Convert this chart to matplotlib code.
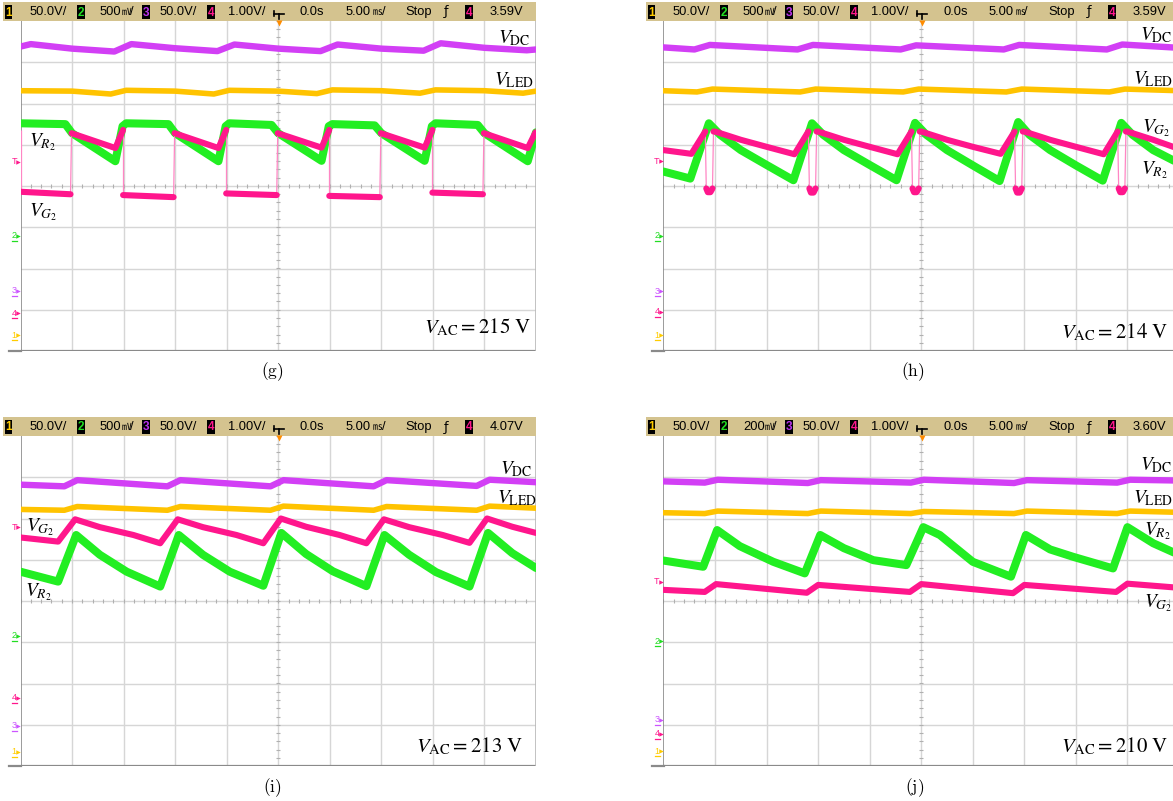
import numpy as np
import matplotlib
matplotlib.use('Agg')
import matplotlib.pyplot as plt
from matplotlib.patches import Rectangle

W, H = 1173, 801

# ---------------- data (time in divisions 0..10, value in divisions, 0 = centre line) ----------
# panel (g)  V_AC = 215 V
g_dc_t = [0.0, 0.2, 1.0, 1.82, 2.15, 3.0, 3.82, 4.15, 5.0, 5.82, 6.15, 7.0, 7.82, 8.15, 9.0, 9.82, 10.0]
g_dc_v = [3.38, 3.44, 3.33, 3.26, 3.44, 3.34, 3.27, 3.43, 3.33, 3.27, 3.43, 3.33, 3.28, 3.46, 3.35, 3.29, 3.31]
g_led_t = [0.0, 1.0, 1.75, 2.05, 3.0, 3.75, 4.05, 5.0, 5.75, 6.05, 7.0, 7.75, 8.05, 9.0, 9.75, 10.0]
g_led_v = [2.31, 2.30, 2.23, 2.32, 2.30, 2.23, 2.32, 2.30, 2.24, 2.33, 2.31, 2.25, 2.33, 2.31, 2.25, 2.30]
g_r2_t = [0.0, 0.87, 1.0, 1.84, 1.98, 2.05, 2.87, 3.0, 3.84, 3.98, 4.05, 4.87, 5.0, 5.84, 5.98, 6.05,
          6.87, 7.0, 7.84, 7.98, 8.05, 8.87, 9.0, 9.84, 10.0]
g_r2_v = [1.52, 1.50, 1.28, 0.60, 1.45, 1.52, 1.50, 1.28, 0.60, 1.45, 1.52, 1.48, 1.28, 0.61, 1.45, 1.50,
          1.47, 1.28, 0.61, 1.45, 1.52, 1.48, 1.28, 0.60, 1.30]
g_g2_t = [0.0, 0.0, 0.97, 0.99, 1.84, 1.99, 1.99, 2.97, 2.99, 3.84, 3.99, 3.99, 4.97, 4.99, 5.84, 5.99,
          5.99, 6.97, 6.99, 7.84, 7.99, 7.99, 8.97, 8.99, 9.84, 9.99]
g_g2_v = [1.36, -0.14, -0.20, 1.28, 0.92, 1.36, -0.22, -0.27, 1.28, 0.92, 1.36, -0.18, -0.22, 1.28, 0.93, 1.36,
          -0.24, -0.27, 1.28, 0.93, 1.36, -0.16, -0.20, 1.28, 0.92, 1.30]

# panel (h)  V_AC = 214 V
h_dc_t = [0.0, 0.6, 0.9, 2.6, 2.9, 4.6, 4.9, 6.6, 6.9, 8.6, 8.9, 10.0]
h_dc_v = [3.36, 3.31, 3.42, 3.31, 3.42, 3.31, 3.41, 3.31, 3.42, 3.31, 3.43, 3.35]
h_led_t = [0.0, 0.65, 0.95, 2.65, 2.95, 4.65, 4.95, 6.65, 6.95, 8.65, 8.95, 10.0]
h_led_v = [2.31, 2.28, 2.35, 2.28, 2.35, 2.28, 2.35, 2.28, 2.35, 2.28, 2.35, 2.31]
h_r2_t = [0.0, 0.52, 0.88, 1.1, 1.5, 2.0, 2.52, 2.88, 3.1, 3.5, 4.0, 4.52, 4.88, 5.1, 5.5, 6.0,
          6.52, 6.88, 7.1, 7.5, 8.0, 8.52, 8.88, 9.1, 9.5, 10.0]
h_r2_v = [0.35, 0.18, 1.52, 1.24, 0.87, 0.51, 0.14, 1.52, 1.24, 0.87, 0.51, 0.14, 1.53, 1.24, 0.87, 0.50,
          0.12, 1.55, 1.24, 0.87, 0.50, 0.13, 1.53, 1.24, 0.87, 0.55]
h_g2_t = [0.0, 0.54, 0.81, 0.83, 0.86, 0.91, 0.95, 0.97, 1.0, 1.5, 2.0,
          2.54, 2.81, 2.83, 2.86, 2.91, 2.95, 2.97, 3.0, 3.5, 4.0,
          4.54, 4.81, 4.83, 4.86, 4.91, 4.95, 4.97, 5.0, 5.5, 6.0,
          6.54, 6.81, 6.83, 6.86, 6.91, 6.95, 6.97, 7.0, 7.5, 8.0,
          8.54, 8.81, 8.83, 8.86, 8.91, 8.95, 8.97, 9.0, 9.5, 10.0]
h_g2_v = [0.87, 0.78, 1.32, -0.06, -0.15, -0.15, -0.06, 1.32, 1.32, 1.12, 0.95,
          0.77, 1.32, -0.06, -0.16, -0.16, -0.06, 1.32, 1.32, 1.12, 0.95,
          0.77, 1.32, -0.06, -0.15, -0.15, -0.06, 1.32, 1.32, 1.12, 0.95,
          0.78, 1.32, -0.06, -0.16, -0.16, -0.06, 1.32, 1.32, 1.12, 0.95,
          0.77, 1.32, -0.06, -0.15, -0.15, -0.06, 1.32, 1.32, 1.12, 0.90]

# panel (i)  V_AC = 213 V
i_dc_t = [0.0, 0.85, 1.1, 2.85, 3.1, 4.85, 5.1, 6.85, 7.1, 8.85, 9.1, 10.0]
i_dc_v = [2.82, 2.78, 2.93, 2.78, 2.93, 2.78, 2.93, 2.78, 2.93, 2.79, 2.94, 2.88]
i_led_t = [0.0, 0.85, 1.1, 2.85, 3.1, 4.85, 5.1, 6.85, 7.1, 8.85, 9.1, 10.0]
i_led_v = [2.22, 2.20, 2.29, 2.20, 2.29, 2.20, 2.30, 2.20, 2.29, 2.20, 2.30, 2.25]
i_r2_t = [0.0, 0.73, 1.08, 1.54, 2.06, 2.71, 3.07, 3.54, 4.06, 4.71, 5.06, 5.54, 6.06, 6.71,
          7.06, 7.54, 8.06, 8.71, 9.07, 9.54, 10.0]
i_r2_v = [0.71, 0.47, 1.60, 1.12, 0.71, 0.35, 1.60, 1.12, 0.71, 0.37, 1.65, 1.14, 0.72, 0.36,
          1.60, 1.12, 0.70, 0.35, 1.65, 1.16, 0.80]
i_g2_t = [0.0, 0.73, 1.06, 1.54, 2.19, 2.71, 3.05, 3.54, 4.19, 4.71, 5.05, 5.54, 6.19, 6.71,
          7.05, 7.54, 8.19, 8.71, 9.05, 9.54, 10.0]
i_g2_v = [1.54, 1.44, 1.98, 1.79, 1.60, 1.40, 1.98, 1.79, 1.60, 1.40, 2.00, 1.80, 1.60, 1.40,
          1.98, 1.79, 1.60, 1.41, 2.00, 1.80, 1.65]

# panel (j)  V_AC = 210 V
j_dc_t = [0.0, 0.8, 1.05, 2.8, 3.05, 4.8, 5.05, 6.8, 7.05, 8.8, 9.05, 10.0]
j_dc_v = [2.90, 2.87, 2.94, 2.86, 2.93, 2.87, 2.94, 2.86, 2.93, 2.87, 2.94, 2.92]
j_led_t = [0.0, 0.8, 1.05, 2.8, 3.05, 4.8, 5.05, 6.8, 7.05, 8.8, 9.05, 10.0]
j_led_v = [2.14, 2.12, 2.18, 2.12, 2.18, 2.12, 2.17, 2.12, 2.18, 2.12, 2.18, 2.15]
j_r2_t = [0.0, 0.77, 1.04, 1.48, 2.13, 2.74, 3.04, 3.5, 4.07, 4.71, 5.04, 5.36, 6.0, 6.74,
          7.03, 7.5, 7.95, 8.72, 9.0, 9.5, 10.0]
j_r2_v = [0.98, 0.83, 1.72, 1.33, 0.95, 0.67, 1.60, 1.28, 0.99, 0.87, 1.79, 1.60, 0.95, 0.59,
          1.60, 1.25, 1.07, 0.79, 1.79, 1.40, 1.12]
j_g2_t = [0.0, 0.8, 1.02, 2.78, 3.0, 4.78, 5.0, 6.78, 7.0, 8.78, 9.0, 10.0]
j_g2_v = [0.27, 0.22, 0.41, 0.20, 0.39, 0.22, 0.41, 0.19, 0.39, 0.22, 0.42, 0.32]

panel_names = ['g', 'h', 'i', 'j']
vac_values = [215, 214, 213, 210]
ch2_scales = ['500', '500', '500', '200']
trig_levels = ['3.59V', '3.59V', '4.07V', '3.60V']

# ---------------- styling / layout ----------------
C_DC = '#d23ff5'
C_LED = '#ffc300'
C_R2 = '#22ee22'
C_G2 = '#ff168c'
C_G2_THIN = '#ff86c4'
C_YEL = '#ffcc00'
BAR = '#d4c38f'

rects = {'g': (20.5, 21, 536, 351), 'h': (663.5, 21, 1179, 351),
         'i': (20.5, 436, 536, 766), 'j': (663.5, 436, 1179, 766)}

fig = plt.figure(figsize=(W / 100, H / 100), dpi=100)
fig.patch.set_facecolor('white')

ov = fig.add_axes([0, 0, 1, 1], zorder=10)
ov.set_xlim(0, W)
ov.set_ylim(H, 0)
ov.axis('off')
ov.patch.set_alpha(0)


def panel_axes(r):
    x0, y0, x1, y1 = r
    ax = fig.add_axes([x0 / W, 1 - y1 / H, (x1 - x0) / W, (y1 - y0) / H])
    ax.set_xlim(0, 10)
    ax.set_ylim(-4, 4)
    ax.set_xticks([])
    ax.set_yticks([])
    for s in ax.spines.values():
        s.set_visible(False)
    for k in range(1, 10):
        ax.axvline(k, color='#d6d6d6', lw=1.0, zorder=0)
    for k in range(-3, 4):
        ax.axhline(k, color='#d6d6d6', lw=1.0, zorder=0)
    ax.axvline(0, color='#8a8a8a', lw=1.2, zorder=1)
    ax.axhline(-4, color='#8a8a8a', lw=1.6, zorder=1)
    ax.axvline(10, color='#b8b8b8', lw=1.2, zorder=1)
    tx = np.arange(0, 10.01, 0.2)
    ax.vlines(tx, -0.06, 0.06, color='#b0b0b0', lw=0.8, zorder=0)
    ty = np.arange(-4, 4.01, 0.2)
    ax.hlines(ty, 4.96, 5.04, color='#b0b0b0', lw=0.8, zorder=0)
    return ax


def draw_trace(ax, t, v, color, lw, thin_color=None, z=2):
    t = np.asarray(t, float)
    v = np.asarray(v, float)
    dt = np.diff(t)
    dv = np.diff(v)
    steep = np.abs(dv) > 25 * np.abs(dt)
    if thin_color is None:
        steep[:] = False
    i = 0
    n = len(dt)
    while i < n:
        j = i
        while j < n and steep[j] == steep[i]:
            j += 1
        seg_t = t[i:j + 1]
        seg_v = v[i:j + 1]
        if steep[i]:
            ax.plot(seg_t, seg_v, color=thin_color, lw=0.9, zorder=z - 0.5, solid_capstyle='butt')
        else:
            ax.plot(seg_t, seg_v, color=color, lw=lw, zorder=z, solid_capstyle='round',
                    solid_joinstyle='round')
        i = j


data = {
    'g': (g_dc_t, g_dc_v, g_led_t, g_led_v, g_r2_t, g_r2_v, g_g2_t, g_g2_v),
    'h': (h_dc_t, h_dc_v, h_led_t, h_led_v, h_r2_t, h_r2_v, h_g2_t, h_g2_v),
    'i': (i_dc_t, i_dc_v, i_led_t, i_led_v, i_r2_t, i_r2_v, i_g2_t, i_g2_v),
    'j': (j_dc_t, j_dc_v, j_led_t, j_led_v, j_r2_t, j_r2_v, j_g2_t, j_g2_v),
}

for name in panel_names:
    ax = panel_axes(rects[name])
    dct, dcv, ledt, ledv, r2t, r2v, g2t, g2v = data[name]
    draw_trace(ax, dct, dcv, C_DC, 4.6)
    draw_trace(ax, ledt, ledv, C_LED, 4.0)
    draw_trace(ax, r2t, r2v, C_R2, 5.8, z=3)
    draw_trace(ax, g2t, g2v, C_G2, 4.4, thin_color=C_G2_THIN, z=4)

# ---------------- header bars ----------------
HDR_FONT = ['Liberation Sans', 'Noto Sans CJK JP', 'DejaVu Sans']


def chbox(x, y, digit, color):
    ov.add_patch(Rectangle((x - 3.8, y - 7), 7.6, 14, facecolor='black', edgecolor='none'))
    ov.text(x, y + 0.5, digit, color=color, fontsize=8.5, ha='center', va='center',
            family=HDR_FONT, fontweight='bold')


def htext(x, y, s, fs=9.3):
    ov.text(x, y, s, fontsize=fs, ha='left', va='center', family=HDR_FONT)


def header(xo, yo, ch2, trig):
    ov.add_patch(Rectangle((xo + 3, yo + 2), 533, 19, facecolor=BAR, edgecolor='none'))
    y = yo + 12
    chbox(xo + 8.5, y, '1', C_YEL)
    htext(xo + 30, y, '50.0V/')
    chbox(xo + 81, y, '2', '#22dd22')
    htext(xo + 100, y, ch2)
    htext(xo + 121.5, y, '\u33b7', fs=7)
    htext(xo + 130, y, '/')
    chbox(xo + 146, y, '3', '#bb33ee')
    htext(xo + 160, y, '50.0V/')
    chbox(xo + 211, y, '4', C_G2)
    htext(xo + 228, y, '1.00V/')
    # trigger position glyph
    ov.plot([xo + 274, xo + 284], [yo + 13.5, yo + 13.5], color='black', lw=1.2)
    ov.plot([xo + 279, xo + 279], [yo + 13.5, yo + 19], color='black', lw=1.2)
    ov.plot([xo + 274, xo + 274], [yo + 11, yo + 16], color='black', lw=1.2)
    ov.plot([xo + 278.5], [yo + 23], marker='v', color='#ff8c00', ms=5, mec='none')
    htext(xo + 300, y, '0.0s')
    htext(xo + 346, y, '5.00')
    htext(xo + 373, y, '\u33b3', fs=7)
    htext(xo + 381.5, y, '/')
    htext(xo + 405, y, 'Stop')
    ov.text(xo + 446, y, '\u0192', fontsize=9.3, ha='center', va='center', family=['DejaVu Sans'])
    chbox(xo + 469, y, '4', C_G2)
    htext(xo + 490, y, trig)


offsets = {'g': (0, 0), 'h': (643, 0), 'i': (0, 415), 'j': (643, 415)}
for name, ch2, trig in zip(panel_names, ch2_scales, trig_levels):
    xo, yo = offsets[name]
    header(xo, yo, ch2, trig)
    ov.plot([xo + 9, xo + 20.5], [yo + 351, yo + 351], color='#8a8a8a', lw=1.6)

# ---------------- channel ground markers ----------------
markers = {
    'g': [('T', C_G2, 163), ('2', '#22dd22', 236.5), ('3', '#cc55ff', 291.5), ('4', C_G2, 314), ('1', C_YEL, 336)],
    'h': [('T', C_G2, 162), ('2', '#22dd22', 237), ('3', '#cc55ff', 292), ('4', C_G2, 313), ('1', C_YEL, 336)],
    'i': [('T', C_G2, 528), ('2', '#22dd22', 637), ('4', C_G2, 699), ('3', '#cc55ff', 727), ('1', C_YEL, 752.5)],
    'j': [('T', C_G2, 583), ('2', '#22dd22', 642), ('3', '#cc55ff', 721), ('4', C_G2, 735), ('1', C_YEL, 752)],
}
for name in panel_names:
    xo = offsets[name][0]
    for lab, col, yy in markers[name]:
        ov.text(xo + 14, yy - 1, lab, color=col, fontsize=6.5, ha='center', va='center', family=HDR_FONT)
        ov.plot([xo + 18], [yy - 1], marker='>', color=col, ms=3.2, mec='none')
        if lab != 'T':
            ov.plot([xo + 12, xo + 17], [yy + 4, yy + 4], color=col, lw=0.9)

# ---------------- trace labels ----------------
LFS = 14
labels = {
    'g': [(498, 38, r'$V_{\mathrm{DC}}$'), (494, 80, r'$V_{\mathrm{LED}}$'),
          (29, 142, r'$V_{R_2}$'), (29, 212, r'$V_{G_2}$')],
    'h': [(1140, 35, r'$V_{\mathrm{DC}}$'), (1133, 79, r'$V_{\mathrm{LED}}$'),
          (1142, 128, r'$V_{G_2}$'), (1141, 170, r'$V_{R_2}$')],
    'i': [(500, 469, r'$V_{\mathrm{DC}}$'), (497, 498, r'$V_{\mathrm{LED}}$'),
          (26, 527, r'$V_{G_2}$'), (25, 592, r'$V_{R_2}$')],
    'j': [(1140, 465, r'$V_{\mathrm{DC}}$'), (1133, 498, r'$V_{\mathrm{LED}}$'),
          (1144, 531, r'$V_{R_2}$'), (1144, 603, r'$V_{G_2}$')],
}
for name in panel_names:
    for x, y, s in labels[name]:
        ov.text(x, y, s, fontsize=LFS, ha='left', va='center', math_fontfamily='stix')

vac_pos = {'g': (531, 327), 'h': (1168, 332), 'i': (523, 746), 'j': (1168, 746)}
for name, val in zip(panel_names, vac_values):
    x, y = vac_pos[name]
    ov.text(x, y, r'$V_{\mathrm{AC}} = %d\ \mathrm{V}$' % val, fontsize=15, ha='right', va='center',
            math_fontfamily='stix')

cap_pos = {'g': (272, 372), 'h': (913, 372), 'i': (272, 788), 'j': (915, 788)}
for name in panel_names:
    x, y = cap_pos[name]
    ov.text(x, y, r'$(\mathrm{%s})$' % name, fontsize=12.5, ha='center', va='center', math_fontfamily='cm')

fig.savefig('out.png', dpi=100, facecolor='white')
